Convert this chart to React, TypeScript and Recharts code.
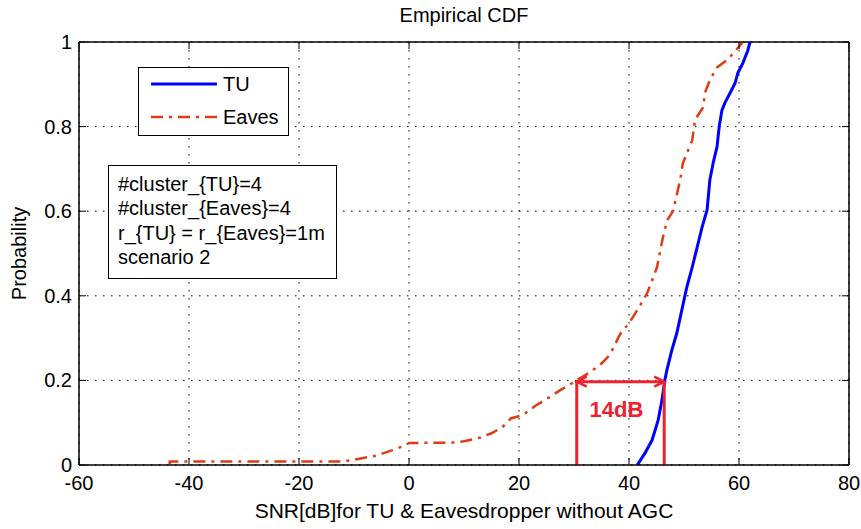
import React from 'react';
import { LineChart, Line, XAxis, YAxis, CartesianGrid, ReferenceLine, ReferenceArea, Legend } from 'recharts';

const FONT = '"Liberation Sans", Arial, Helvetica, sans-serif';

// Axis ticks
const xTicks = [-60, -40, -20, 0, 20, 40, 60, 80];
const yTicks = [0, 0.2, 0.4, 0.6, 0.8, 1];

// Series names
const seriesNames = ['TU', 'Eaves'];

// TU empirical CDF (SNR dB, probability)
const tuX = [41.5, 42.9, 44.2, 45.3, 46.0, 46.5, 46.9, 47.8, 48.7, 49.6, 50.5, 51.5, 52.4, 53.3, 54.2, 54.7, 55.3, 56.0, 56.4, 56.9, 57.5, 58.4, 59.3, 59.8, 60.7, 61.6, 62.0];
const tuY = [0, 0.028, 0.059, 0.106, 0.154, 0.2, 0.225, 0.272, 0.312, 0.366, 0.42, 0.468, 0.515, 0.563, 0.603, 0.674, 0.714, 0.752, 0.8, 0.839, 0.858, 0.88, 0.903, 0.927, 0.95, 0.98, 1];

// Eavesdropper empirical CDF
const eavesX = [-43.5, -43.5, -12, -9, -6, -3, -1, 0, 8, 10, 13, 15, 17, 18.5, 20.7, 23, 25.5, 27.5, 30.5, 33, 35, 36.5, 38.4, 40, 41.5, 43.3, 45.1, 46.2, 47, 48, 49.3, 49.8, 51.5, 52, 53.5, 53.8, 54.7, 56, 57.8, 59, 60.7];
const eavesY = [0, 0.008, 0.008, 0.015, 0.022, 0.035, 0.045, 0.052, 0.053, 0.056, 0.065, 0.075, 0.09, 0.11, 0.118, 0.14, 0.16, 0.177, 0.2, 0.22, 0.24, 0.26, 0.31, 0.335, 0.366, 0.406, 0.468, 0.54, 0.58, 0.6, 0.674, 0.714, 0.768, 0.816, 0.846, 0.88, 0.91, 0.94, 0.957, 0.974, 1];

// Gap annotation
const gapLeft = 30.5;
const gapRight = 46.4;
const gapLevel = 0.197;
const gapLabel = '14dB';

// Info box lines
const infoLines = ['#cluster_{TU}=4', '#cluster_{Eaves}=4', 'r_{TU} = r_{Eaves}=1m', 'scenario 2'];

const tuData = tuX.map((x, i) => ({ x, y: tuY[i] }));
const eavesData = eavesX.map((x, i) => ({ x, y: eavesY[i] }));

const TU_COLOR = '#0000ff';
const EAVES_COLOR = '#e03c14';
const ANN_COLOR = '#f0202c';
const EAVES_DASH = '12 6 3 6';

const seriesStyle: Record<string, { color: string; dash?: string; width: number }> = {
  TU: { color: TU_COLOR, width: 3 },
  Eaves: { color: EAVES_COLOR, dash: EAVES_DASH, width: 2.5 },
};

const TICK_M = 11;
const Y_TICK_M = 7;
const TICK_LEN = 7;

const BottomTick = (props: any) => {
  const { x, y, payload } = props;
  const ay = y - TICK_M;
  return (
    <g>
      <line x1={x} x2={x} y1={ay} y2={ay - TICK_LEN} stroke="#000" strokeWidth={1} />
      <text x={x} y={y} dy="0.71em" textAnchor="middle" fill="#000" fontSize={20} fontFamily={FONT}>
        {String(payload.value)}
      </text>
    </g>
  );
};

const LeftTick = (props: any) => {
  const { x, y, payload } = props;
  const ax = x + Y_TICK_M;
  return (
    <g>
      <line x1={ax} x2={ax + TICK_LEN} y1={y} y2={y} stroke="#000" strokeWidth={1} />
      <text x={x} y={y} dy="0.35em" textAnchor="end" fill="#000" fontSize={20} fontFamily={FONT}>
        {String(payload.value)}
      </text>
    </g>
  );
};

const TopTick = (props: any) => {
  const { x, y } = props;
  return <line x1={x} x2={x} y1={y} y2={y + TICK_LEN} stroke="#000" strokeWidth={1} />;
};

const RightTick = (props: any) => {
  const { x, y } = props;
  return <line x1={x} x2={x - TICK_LEN} y1={y} y2={y} stroke="#000" strokeWidth={1} />;
};

const ArrowShape = (props: any) => {
  const { x1, y1, x2, y2 } = props;
  const lx = Math.min(x1, x2);
  const rx = Math.max(x1, x2);
  const h = 10;
  const w = 5;
  return (
    <g>
      <line x1={lx} y1={y1} x2={rx} y2={y2} stroke={ANN_COLOR} strokeWidth={3} />
      <polyline points={`${lx + h},${y1 - w} ${lx},${y1} ${lx + h},${y1 + w}`} fill="none" stroke={ANN_COLOR} strokeWidth={2.5} />
      <polyline points={`${rx - h},${y2 - w} ${rx},${y2} ${rx - h},${y2 + w}`} fill="none" stroke={ANN_COLOR} strokeWidth={2.5} />
    </g>
  );
};

const VLineShape = (props: any) => {
  const { x1, y1, x2, y2 } = props;
  return <line x1={x1} y1={y1} x2={x2} y2={y2} stroke={ANN_COLOR} strokeWidth={3} />;
};

const LegendBox = () => (
  <div
    style={{
      width: 151,
      height: 69,
      border: '1px solid #000',
      background: '#fff',
      boxSizing: 'border-box',
      position: 'relative',
      fontFamily: FONT,
      fontSize: 20,
      color: '#000',
    }}
  >
    <svg width={149} height={67} style={{ position: 'absolute', left: 0, top: 0 }}>
      {seriesNames.map((name, i) => {
        const s = seriesStyle[name];
        const cy = i === 0 ? 16 : 49;
        return (
          <line key={name} x1={12} x2={78} y1={cy} y2={cy} stroke={s.color} strokeWidth={s.width} strokeDasharray={s.dash} />
        );
      })}
    </svg>
    {seriesNames.map((name, i) => (
      <span
        key={name}
        style={{ position: 'absolute', left: 84, top: (i === 0 ? 16 : 49) - 10, lineHeight: '20px', whiteSpace: 'nowrap' }}
      >
        {name}
      </span>
    ))}
  </div>
);

export default function App() {
  return (
    <div style={{ position: 'absolute', left: 0, top: 0, width: 861, height: 529, background: '#fff', fontFamily: FONT }}>
      <LineChart width={861} height={529} margin={{ top: 41, right: 11, bottom: 34, left: 0 }}>
        <CartesianGrid stroke="#000" strokeWidth={1} strokeDasharray="1.5 6.5" />
        <XAxis
          type="number"
          dataKey="x"
          domain={[-60, 80]}
          ticks={xTicks}
          interval={0}
          allowDataOverflow
          height={30}
          tickSize={0}
          tickMargin={TICK_M}
          tickLine={false}
          axisLine={{ stroke: '#000', strokeWidth: 1 }}
          tick={<BottomTick />}
          label={{
            content: (p: any) => {
              const vb = p.viewBox || { x: 79, y: 465, width: 770 };
              return (
                <text x={vb.x + vb.width / 2} y={vb.y + 53} textAnchor="middle" fontSize={21} fontFamily={FONT} fill="#000">
                  SNR[dB]for TU &amp; Eavesdropper without AGC
                </text>
              );
            },
          }}
        />
        <XAxis
          xAxisId="top"
          orientation="top"
          type="number"
          dataKey="x"
          domain={[-60, 80]}
          ticks={xTicks}
          interval={0}
          allowDataOverflow
          height={1}
          tickSize={0}
          tickMargin={0}
          tickLine={false}
          axisLine={{ stroke: '#000', strokeWidth: 1 }}
          tick={<TopTick />}
          label={{
            content: (p: any) => {
              const vb = p.viewBox || { x: 79, y: 42, width: 770 };
              return (
                <text x={vb.x + vb.width / 2} y={22} textAnchor="middle" fontSize={20} fontFamily={FONT} fill="#000">
                  Empirical CDF
                </text>
              );
            },
          }}
        />
        <YAxis
          type="number"
          domain={[0, 1]}
          ticks={yTicks}
          interval={0}
          allowDataOverflow
          width={79}
          tickSize={0}
          tickMargin={Y_TICK_M}
          tickLine={false}
          axisLine={{ stroke: '#000', strokeWidth: 1 }}
          tick={<LeftTick />}
          label={{
            content: (p: any) => {
              const vb = p.viewBox || { x: 0, y: 42, height: 423 };
              const cx = 26;
              const cy = vb.y + vb.height / 2;
              return (
                <text x={cx} y={cy} transform={`rotate(-90 ${cx} ${cy})`} textAnchor="middle" fontSize={20} fontFamily={FONT} fill="#000">
                  Probability
                </text>
              );
            },
          }}
        />
        <YAxis
          yAxisId="right"
          orientation="right"
          type="number"
          domain={[0, 1]}
          ticks={yTicks}
          interval={0}
          allowDataOverflow
          width={1}
          tickSize={0}
          tickMargin={0}
          tickLine={false}
          axisLine={{ stroke: '#000', strokeWidth: 1 }}
          tick={<RightTick />}
        />
        <ReferenceArea x1={-60} x2={80} y1={0} y2={1} fill="none" fillOpacity={0} stroke="#000" strokeWidth={1} ifOverflow="visible" />
        <Legend layout="vertical" align="center" verticalAlign="middle" wrapperStyle={{ left: 138, top: 67, width: 151, height: 69 }} content={<LegendBox />} />
        <Line
          data={eavesData}
          dataKey="y"
          name={seriesNames[1]}
          type="linear"
          stroke={EAVES_COLOR}
          strokeWidth={2.5}
          strokeDasharray={EAVES_DASH}
          dot={false}
          activeDot={false}
          isAnimationActive={false}
        />
        <Line
          data={tuData}
          dataKey="y"
          name={seriesNames[0]}
          type="linear"
          stroke={TU_COLOR}
          strokeWidth={3}
          dot={false}
          activeDot={false}
          isAnimationActive={false}
        />
        <ReferenceLine segment={[{ x: gapLeft, y: 0 }, { x: gapLeft, y: gapLevel }]} shape={<VLineShape />} />
        <ReferenceLine segment={[{ x: gapRight, y: 0 }, { x: gapRight, y: gapLevel }]} shape={<VLineShape />} />
        <ReferenceLine
          segment={[{ x: gapLeft, y: gapLevel }, { x: gapRight, y: gapLevel }]}
          shape={<ArrowShape />}
          label={{
            content: (p: any) => {
              const vb = p.viewBox || { x: 577, y: 382, width: 88 };
              return (
                <text x={vb.x + vb.width / 2 - 4} y={vb.y + 35} textAnchor="middle" fontSize={22} fontWeight="bold" fontFamily={FONT} fill={ANN_COLOR}>
                  {gapLabel}
                </text>
              );
            },
          }}
        />
      </LineChart>
      <div
        style={{
          position: 'absolute',
          left: 108,
          top: 165,
          width: 229,
          height: 114,
          border: '1px solid #000',
          background: '#fff',
          boxSizing: 'border-box',
          padding: '6px 0 0 9px',
          fontSize: 20,
          lineHeight: '24.4px',
          color: '#000',
          fontFamily: FONT,
          whiteSpace: 'nowrap',
        }}
      >
        {infoLines.map((t) => (
          <div key={t}>{t}</div>
        ))}
      </div>
    </div>
  );
}
